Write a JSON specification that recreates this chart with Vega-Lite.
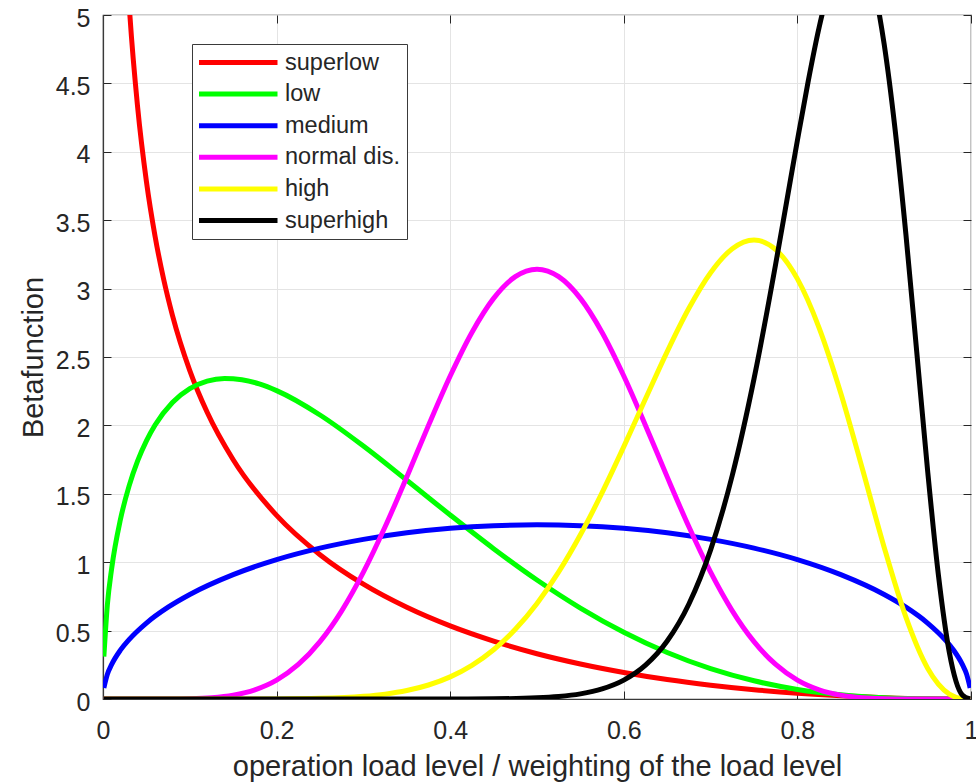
{
  "$schema": "https://vega.github.io/schema/vega-lite/v6.json",
  "width": 868,
  "height": 684,
  "autosize": {"type": "none"},
  "padding": {"left": 103, "top": 15, "right": 5, "bottom": 85},
  "background": "white",
  "config": {
    "font": "Liberation Sans",
    "view": {"stroke": "#3a3a3a", "strokeWidth": 1.2}
  },
  "data": {
    "values": [
      {"series": "superlow", "x": 0.001, "y": 29.62},
      {"series": "superlow", "x": 0.005, "y": 13.13},
      {"series": "superlow", "x": 0.01, "y": 9.188},
      {"series": "superlow", "x": 0.02, "y": 6.367},
      {"series": "superlow", "x": 0.03, "y": 5.093},
      {"series": "superlow", "x": 0.04, "y": 4.32},
      {"series": "superlow", "x": 0.05, "y": 3.784},
      {"series": "superlow", "x": 0.06, "y": 3.382},
      {"series": "superlow", "x": 0.07, "y": 3.065},
      {"series": "superlow", "x": 0.08, "y": 2.805},
      {"series": "superlow", "x": 0.1, "y": 2.401},
      {"series": "superlow", "x": 0.12, "y": 2.096},
      {"series": "superlow", "x": 0.15, "y": 1.749},
      {"series": "superlow", "x": 0.2, "y": 1.342},
      {"series": "superlow", "x": 0.25, "y": 1.055},
      {"series": "superlow", "x": 0.3, "y": 0.839},
      {"series": "superlow", "x": 0.35, "y": 0.67},
      {"series": "superlow", "x": 0.4, "y": 0.534},
      {"series": "superlow", "x": 0.45, "y": 0.423},
      {"series": "superlow", "x": 0.5, "y": 0.331},
      {"series": "superlow", "x": 0.55, "y": 0.256},
      {"series": "superlow", "x": 0.6, "y": 0.194},
      {"series": "superlow", "x": 0.65, "y": 0.142},
      {"series": "superlow", "x": 0.7, "y": 0.101},
      {"series": "superlow", "x": 0.75, "y": 0.068},
      {"series": "superlow", "x": 0.8, "y": 0.042},
      {"series": "superlow", "x": 0.85, "y": 0.023},
      {"series": "superlow", "x": 0.9, "y": 0.01},
      {"series": "superlow", "x": 0.95, "y": 0.002},
      {"series": "superlow", "x": 0.999, "y": 0},

      {"series": "low", "x": 0.001, "y": 0.31},
      {"series": "low", "x": 0.005, "y": 0.686},
      {"series": "low", "x": 0.01, "y": 0.955},
      {"series": "low", "x": 0.02, "y": 1.31},
      {"series": "low", "x": 0.03, "y": 1.556},
      {"series": "low", "x": 0.04, "y": 1.742},
      {"series": "low", "x": 0.05, "y": 1.887},
      {"series": "low", "x": 0.06, "y": 2.003},
      {"series": "low", "x": 0.08, "y": 2.168},
      {"series": "low", "x": 0.1, "y": 2.269},
      {"series": "low", "x": 0.12, "y": 2.324},
      {"series": "low", "x": 0.14, "y": 2.343},
      {"series": "low", "x": 0.16, "y": 2.334},
      {"series": "low", "x": 0.18, "y": 2.303},
      {"series": "low", "x": 0.2, "y": 2.254},
      {"series": "low", "x": 0.25, "y": 2.076},
      {"series": "low", "x": 0.3, "y": 1.849},
      {"series": "low", "x": 0.35, "y": 1.599},
      {"series": "low", "x": 0.4, "y": 1.345},
      {"series": "low", "x": 0.45, "y": 1.099},
      {"series": "low", "x": 0.5, "y": 0.87},
      {"series": "low", "x": 0.55, "y": 0.665},
      {"series": "low", "x": 0.6, "y": 0.488},
      {"series": "low", "x": 0.65, "y": 0.34},
      {"series": "low", "x": 0.7, "y": 0.222},
      {"series": "low", "x": 0.75, "y": 0.133},
      {"series": "low", "x": 0.8, "y": 0.07},
      {"series": "low", "x": 0.85, "y": 0.031},
      {"series": "low", "x": 0.9, "y": 0.009},
      {"series": "low", "x": 0.95, "y": 0.001},
      {"series": "low", "x": 0.999, "y": 0},

      {"series": "medium", "x": 0.001, "y": 0.081},
      {"series": "medium", "x": 0.005, "y": 0.18},
      {"series": "medium", "x": 0.01, "y": 0.253},
      {"series": "medium", "x": 0.02, "y": 0.357},
      {"series": "medium", "x": 0.03, "y": 0.434},
      {"series": "medium", "x": 0.05, "y": 0.555},
      {"series": "medium", "x": 0.075, "y": 0.671},
      {"series": "medium", "x": 0.1, "y": 0.764},
      {"series": "medium", "x": 0.15, "y": 0.909},
      {"series": "medium", "x": 0.2, "y": 1.019},
      {"series": "medium", "x": 0.25, "y": 1.103},
      {"series": "medium", "x": 0.3, "y": 1.167},
      {"series": "medium", "x": 0.35, "y": 1.215},
      {"series": "medium", "x": 0.4, "y": 1.248},
      {"series": "medium", "x": 0.45, "y": 1.267},
      {"series": "medium", "x": 0.5, "y": 1.273},
      {"series": "medium", "x": 0.55, "y": 1.267},
      {"series": "medium", "x": 0.6, "y": 1.248},
      {"series": "medium", "x": 0.65, "y": 1.215},
      {"series": "medium", "x": 0.7, "y": 1.167},
      {"series": "medium", "x": 0.75, "y": 1.103},
      {"series": "medium", "x": 0.8, "y": 1.019},
      {"series": "medium", "x": 0.85, "y": 0.909},
      {"series": "medium", "x": 0.9, "y": 0.764},
      {"series": "medium", "x": 0.925, "y": 0.671},
      {"series": "medium", "x": 0.95, "y": 0.555},
      {"series": "medium", "x": 0.97, "y": 0.434},
      {"series": "medium", "x": 0.98, "y": 0.357},
      {"series": "medium", "x": 0.99, "y": 0.253},
      {"series": "medium", "x": 0.995, "y": 0.18},
      {"series": "medium", "x": 0.999, "y": 0.081},

      {"series": "normal dis.", "x": 0.001, "y": 0},
      {"series": "normal dis.", "x": 0.05, "y": 0},
      {"series": "normal dis.", "x": 0.075, "y": 0.0004},
      {"series": "normal dis.", "x": 0.1, "y": 0.0025},
      {"series": "normal dis.", "x": 0.125, "y": 0.0096},
      {"series": "normal dis.", "x": 0.15, "y": 0.0282},
      {"series": "normal dis.", "x": 0.175, "y": 0.0673},
      {"series": "normal dis.", "x": 0.2, "y": 0.1382},
      {"series": "normal dis.", "x": 0.225, "y": 0.2523},
      {"series": "normal dis.", "x": 0.25, "y": 0.4194},
      {"series": "normal dis.", "x": 0.275, "y": 0.6447},
      {"series": "normal dis.", "x": 0.3, "y": 0.9272},
      {"series": "normal dis.", "x": 0.325, "y": 1.2588},
      {"series": "normal dis.", "x": 0.35, "y": 1.6236},
      {"series": "normal dis.", "x": 0.375, "y": 2.0},
      {"series": "normal dis.", "x": 0.4, "y": 2.3611},
      {"series": "normal dis.", "x": 0.425, "y": 2.6794},
      {"series": "normal dis.", "x": 0.45, "y": 2.9286},
      {"series": "normal dis.", "x": 0.475, "y": 3.0875},
      {"series": "normal dis.", "x": 0.5, "y": 3.1421},
      {"series": "normal dis.", "x": 0.525, "y": 3.0875},
      {"series": "normal dis.", "x": 0.55, "y": 2.9286},
      {"series": "normal dis.", "x": 0.575, "y": 2.6794},
      {"series": "normal dis.", "x": 0.6, "y": 2.3611},
      {"series": "normal dis.", "x": 0.625, "y": 2.0},
      {"series": "normal dis.", "x": 0.65, "y": 1.6236},
      {"series": "normal dis.", "x": 0.675, "y": 1.2588},
      {"series": "normal dis.", "x": 0.7, "y": 0.9272},
      {"series": "normal dis.", "x": 0.725, "y": 0.6447},
      {"series": "normal dis.", "x": 0.75, "y": 0.4194},
      {"series": "normal dis.", "x": 0.775, "y": 0.2523},
      {"series": "normal dis.", "x": 0.8, "y": 0.1382},
      {"series": "normal dis.", "x": 0.825, "y": 0.0673},
      {"series": "normal dis.", "x": 0.85, "y": 0.0282},
      {"series": "normal dis.", "x": 0.875, "y": 0.0096},
      {"series": "normal dis.", "x": 0.9, "y": 0.0025},
      {"series": "normal dis.", "x": 0.925, "y": 0.0004},
      {"series": "normal dis.", "x": 0.95, "y": 0},
      {"series": "normal dis.", "x": 0.999, "y": 0},

      {"series": "high", "x": 0.001, "y": 0},
      {"series": "high", "x": 0.15, "y": 0.0001},
      {"series": "high", "x": 0.2, "y": 0.0008},
      {"series": "high", "x": 0.25, "y": 0.0046},
      {"series": "high", "x": 0.3, "y": 0.0193},
      {"series": "high", "x": 0.325, "y": 0.0356},
      {"series": "high", "x": 0.35, "y": 0.0619},
      {"series": "high", "x": 0.375, "y": 0.1024},
      {"series": "high", "x": 0.4, "y": 0.1619},
      {"series": "high", "x": 0.425, "y": 0.246},
      {"series": "high", "x": 0.45, "y": 0.3601},
      {"series": "high", "x": 0.475, "y": 0.5094},
      {"series": "high", "x": 0.5, "y": 0.6982},
      {"series": "high", "x": 0.525, "y": 0.9287},
      {"series": "high", "x": 0.55, "y": 1.2002},
      {"series": "high", "x": 0.575, "y": 1.5085},
      {"series": "high", "x": 0.6, "y": 1.8446},
      {"series": "high", "x": 0.625, "y": 2.1947},
      {"series": "high", "x": 0.65, "y": 2.5398},
      {"series": "high", "x": 0.675, "y": 2.8559},
      {"series": "high", "x": 0.7, "y": 3.1161},
      {"series": "high", "x": 0.725, "y": 3.2916},
      {"series": "high", "x": 0.75, "y": 3.3554},
      {"series": "high", "x": 0.775, "y": 3.2857},
      {"series": "high", "x": 0.8, "y": 3.0709},
      {"series": "high", "x": 0.825, "y": 2.7136},
      {"series": "high", "x": 0.85, "y": 2.2357},
      {"series": "high", "x": 0.875, "y": 1.6795},
      {"series": "high", "x": 0.9, "y": 1.108},
      {"series": "high", "x": 0.925, "y": 0.5982},
      {"series": "high", "x": 0.95, "y": 0.2253},
      {"series": "high", "x": 0.975, "y": 0.0356},
      {"series": "high", "x": 0.99, "y": 0.0026},
      {"series": "high", "x": 0.999, "y": 0},

      {"series": "superhigh", "x": 0.001, "y": 0},
      {"series": "superhigh", "x": 0.3, "y": 0},
      {"series": "superhigh", "x": 0.4, "y": 0.0002},
      {"series": "superhigh", "x": 0.45, "y": 0.0015},
      {"series": "superhigh", "x": 0.5, "y": 0.0084},
      {"series": "superhigh", "x": 0.525, "y": 0.0183},
      {"series": "superhigh", "x": 0.55, "y": 0.0377},
      {"series": "superhigh", "x": 0.575, "y": 0.0738},
      {"series": "superhigh", "x": 0.6, "y": 0.1381},
      {"series": "superhigh", "x": 0.625, "y": 0.2472},
      {"series": "superhigh", "x": 0.65, "y": 0.4235},
      {"series": "superhigh", "x": 0.675, "y": 0.6945},
      {"series": "superhigh", "x": 0.7, "y": 1.0901},
      {"series": "superhigh", "x": 0.725, "y": 1.6356},
      {"series": "superhigh", "x": 0.75, "y": 2.3401},
      {"series": "superhigh", "x": 0.775, "y": 3.1808},
      {"series": "superhigh", "x": 0.7875, "y": 3.6316},
      {"series": "superhigh", "x": 0.8, "y": 4.0836},
      {"series": "superhigh", "x": 0.8125, "y": 4.5177},
      {"series": "superhigh", "x": 0.825, "y": 4.9088},
      {"series": "superhigh", "x": 0.85, "y": 5.451},
      {"series": "superhigh", "x": 0.8636, "y": 5.543},
      {"series": "superhigh", "x": 0.875, "y": 5.4718},
      {"series": "superhigh", "x": 0.8875, "y": 5.2227},
      {"series": "superhigh", "x": 0.9, "y": 4.7847},
      {"series": "superhigh", "x": 0.9125, "y": 4.1658},
      {"series": "superhigh", "x": 0.925, "y": 3.3972},
      {"series": "superhigh", "x": 0.9375, "y": 2.5371},
      {"series": "superhigh", "x": 0.95, "y": 1.6707},
      {"series": "superhigh", "x": 0.9625, "y": 0.9035},
      {"series": "superhigh", "x": 0.975, "y": 0.3421},
      {"series": "superhigh", "x": 0.99, "y": 0.0293},
      {"series": "superhigh", "x": 0.999, "y": 0}
    ]
  },
  "layer": [
    {
      "mark": {"type": "line", "strokeWidth": 5, "clip": true, "interpolate": "monotone"},
      "encoding": {
        "x": {
          "field": "x", "type": "quantitative",
          "scale": {"domain": [0, 1], "nice": false, "zero": false},
          "axis": {
            "orient": "bottom",
            "values": [0, 0.2, 0.4, 0.6, 0.8, 1],
            "format": "~g",
            "title": "operation load level / weighting of the load level",
            "grid": true, "gridColor": "#e4e4e4", "gridWidth": 1,
            "domain": true, "domainColor": "#3a3a3a", "domainWidth": 1.2,
            "ticks": true, "tickSize": -8, "tickColor": "#262626", "tickWidth": 1,
            "labelFont": "Liberation Sans", "labelFontSize": 25, "labelColor": "#262626",
            "labelPadding": 27, "labelFlush": false,
            "titleFont": "Liberation Sans", "titleFontSize": 29, "titleFontWeight": "normal",
            "titleColor": "#262626", "titleY": 76, "titleBaseline": "alphabetic"
          }
        },
        "y": {
          "field": "y", "type": "quantitative",
          "scale": {"domain": [0, 5], "nice": false},
          "axis": {
            "orient": "left",
            "values": [0, 0.5, 1, 1.5, 2, 2.5, 3, 3.5, 4, 4.5, 5],
            "format": "~g",
            "title": "Betafunction",
            "grid": true, "gridColor": "#e4e4e4", "gridWidth": 1,
            "domain": true, "domainColor": "#3a3a3a", "domainWidth": 1.2,
            "ticks": true, "tickSize": -8, "tickColor": "#262626", "tickWidth": 1,
            "labelFont": "Liberation Sans", "labelFontSize": 25, "labelColor": "#262626",
            "labelPadding": 21, "labelOffset": 3, "labelFlush": false,
            "titleFont": "Liberation Sans", "titleFontSize": 29, "titleFontWeight": "normal",
            "titleColor": "#262626", "titleX": -61, "titleY": 342, "titleAngle": -90,
            "titleBaseline": "alphabetic", "titleAlign": "center"
          }
        },
        "color": {
          "field": "series", "type": "nominal",
          "scale": {
            "domain": ["superlow", "low", "medium", "normal dis.", "high", "superhigh"],
            "range": ["#ff0000", "#00ff00", "#0000ff", "#ff00ff", "#ffff00", "#000000"]
          },
          "legend": {
            "orient": "none", "legendX": 89, "legendY": 29,
            "title": null,
            "symbolType": "stroke", "symbolSize": 6241, "symbolStrokeWidth": 5, "symbolOpacity": 1,
            "symbolOffset": -3, "clipHeight": 23,
            "labelFont": "Liberation Sans", "labelFontSize": 23.5, "labelColor": "#262626",
            "labelOffset": 5, "labelLimit": 300,
            "padding": 7, "rowPadding": 7.6,
            "strokeColor": "#3a3a3a", "fillColor": "#ffffff", "cornerRadius": 0
          }
        }
      }
    },
    {
      "mark": {"type": "point", "opacity": 0, "clip": true},
      "encoding": {
        "x": {
          "field": "x", "type": "quantitative",
          "axis": {
            "orient": "top", "values": [0, 0.2, 0.4, 0.6, 0.8, 1],
            "labels": false, "title": null, "grid": false, "domain": false,
            "ticks": true, "tickSize": -8, "tickColor": "#262626", "tickWidth": 1
          }
        },
        "y": {
          "field": "y", "type": "quantitative",
          "axis": {
            "orient": "right", "values": [0, 0.5, 1, 1.5, 2, 2.5, 3, 3.5, 4, 4.5, 5],
            "labels": false, "title": null, "grid": false, "domain": false,
            "ticks": true, "tickSize": -8, "tickColor": "#262626", "tickWidth": 1
          }
        }
      }
    }
  ],
  "resolve": {"axis": {"x": "independent", "y": "independent"}}
}
